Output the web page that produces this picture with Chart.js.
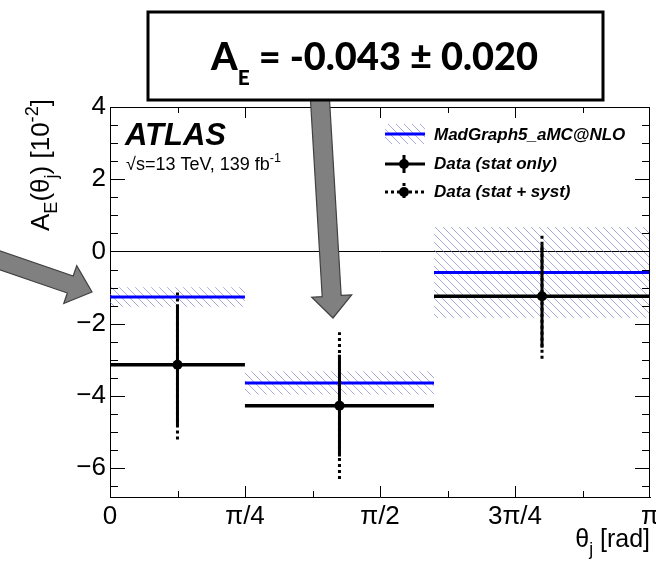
<!DOCTYPE html>
<html>
<head>
<meta charset="utf-8">
<script src="https://cdn.jsdelivr.net/npm/chart.js@4.4.1/dist/chart.umd.min.js"></script>
<style>
html,body{margin:0;padding:0;background:#fff}
#wrap{width:656px;height:562px}
</style>
</head>
<body>
<div id="wrap"><canvas id="asymChart" width="656" height="562"></canvas></div>
<script>
// bins in theta_j [rad], values in units of 10^-2
const binEdges = [0, 0.785, 1.885, 3.1416]
const dataValues = [-3.14, -4.27, -1.24]
const statErrors = [1.67, 1.41, 1.43]
const totalErrors = [2.07, 2.03, 1.73]
const mcValues = [-1.26, -3.64, -0.58]
const mcErrors = [0.27, 0.32, 1.26]
const xTickValues = [0, Math.PI/4, Math.PI/2, 3*Math.PI/4, Math.PI]
const xTickLabels = ["0","π/4","π/2","3π/4","π"]
const yTickValues = [-6,-4,-2,0,2,4]

const FONT = "'Liberation Sans', Arial, sans-serif"

const binCentres = dataValues.map((v,i)=>(binEdges[i]+binEdges[i+1])/2)

function binSegments(values){
let pts=[]
values.forEach((v,i)=>{
pts.push({x:binEdges[i],y:v},{x:binEdges[i+1],y:v},{x:binEdges[i+1],y:null})
})
return pts
}

function errorSegments(errs){
let pts=[]
dataValues.forEach((v,i)=>{
pts.push({x:binCentres[i],y:v-errs[i]},{x:binCentres[i],y:v+errs[i]},{x:binCentres[i],y:null})
})
return pts
}

function stepPoints(values){
let pts=values.map((v,i)=>({x:binEdges[i],y:v}))
pts.push({x:binEdges[values.length],y:values[values.length-1]})
return pts
}

function hatchPattern(){
const c=document.createElement("canvas")
c.width=8;c.height=8
const g=c.getContext("2d")
g.strokeStyle="rgba(125,125,200,0.65)"
g.lineWidth=1
g.beginPath()
for(const o of [-8,0,8]){g.moveTo(o,0);g.lineTo(o+8,8)}
g.stroke()
return g.createPattern(c,"repeat")
}
const hatch = hatchPattern()

// text with sub/superscripts, returns width
function richText(ctx,parts,x,y,size,style,measureOnly){
let cx=x
for(const p of parts){
const fs=p.s?size*(p.k||0.7):size
ctx.font=style+" "+fs+"px "+(p.f||FONT)
const dy=p.dy!==undefined?p.dy:p.s==="sub"?size*0.3:p.s==="sup"?-size*0.42:0
if(!measureOnly)ctx.fillText(p.t,cx,y+dy)
cx+=ctx.measureText(p.t).width
}
return cx-x
}

function drawArrow(ctx,x0,y0,x1,y1,shaftW,headW,headL){
const dx=x1-x0,dy=y1-y0,L=Math.hypot(dx,dy)
const ux=dx/L,uy=dy/L,nx=-uy,ny=ux
const bx=x1-ux*headL,by=y1-uy*headL
const pts=[
[x0+nx*shaftW/2,y0+ny*shaftW/2],[bx+nx*shaftW/2,by+ny*shaftW/2],[bx+nx*headW/2,by+ny*headW/2],
[x1,y1],
[bx-nx*headW/2,by-ny*headW/2],[bx-nx*shaftW/2,by-ny*shaftW/2],[x0-nx*shaftW/2,y0-ny*shaftW/2]]
ctx.beginPath()
pts.forEach((p,i)=>i?ctx.lineTo(p[0],p[1]):ctx.moveTo(p[0],p[1]))
ctx.closePath()
ctx.fillStyle="#808080"
ctx.fill()
ctx.strokeStyle="#404040"
ctx.lineWidth=1.2
ctx.stroke()
}

const decorations={
id:"decorations",
afterDatasetsDraw(chart){
const ctx=chart.ctx
const a=chart.chartArea
const xs=chart.scales.x,ys=chart.scales.y
ctx.save()
ctx.strokeStyle="#000"
ctx.lineWidth=1
ctx.beginPath()
ctx.moveTo(a.left,a.top+0.5);ctx.lineTo(a.right,a.top+0.5)
ctx.moveTo(a.right-0.5,a.top);ctx.lineTo(a.right-0.5,a.bottom)
// inside ticks on y
for(let k=-13;k<=8;k++){
const v=k/2
const py=Math.round(ys.getPixelForValue(v))+0.5
const len=(k%4===0)?15:8
ctx.moveTo(a.left,py);ctx.lineTo(a.left+len,py)
ctx.moveTo(a.right,py);ctx.lineTo(a.right-len,py)
}
// inside ticks on x
for(let k=1;k<8;k++){
const px=Math.round(xs.getPixelForValue(k*Math.PI/8))+0.5
const len=(k%2===0)?11:6
ctx.moveTo(px,a.bottom);ctx.lineTo(px,a.bottom-len)
ctx.moveTo(px,a.top);ctx.lineTo(px,a.top+len)
}
ctx.stroke()
ctx.restore()
},
afterDraw(chart){
const ctx=chart.ctx
ctx.save()
ctx.fillStyle="#000"
ctx.textBaseline="alphabetic"
ctx.textAlign="left"

// ATLAS label
ctx.font="italic bold 31px "+FONT
ctx.fillText("ATLAS",125,145)
richText(ctx,[{t:"√s=13 TeV, 139 fb"},{t:"-1",s:"sup"}],126,170,18,"")

// y axis title, rotated
const yParts=[{t:"A"},{t:"E",s:"sub"},{t:"(θ"},{t:"j",s:"sub"},{t:") [10"},{t:"-2",s:"sup"},{t:"]"}]
const yw=richText(ctx,yParts,0,0,26,"",true)
ctx.save()
ctx.translate(49,99+yw)
ctx.rotate(-Math.PI/2)
richText(ctx,yParts,0,0,26,"")
ctx.restore()

// x axis title, right aligned
const xParts=[{t:"θ"},{t:"j",s:"sub"},{t:" [rad]"}]
const xw=richText(ctx,xParts,0,0,25,"",true)
richText(ctx,xParts,650-xw,547,25,"")

// legend
const lx0=385,lx1=425,lxm=404
ctx.fillStyle=hatch
ctx.fillRect(lx0,124,lx1-lx0,20)
ctx.strokeStyle="#0000ff"
ctx.lineWidth=3
ctx.beginPath();ctx.moveTo(lx0,134);ctx.lineTo(lx1,134);ctx.stroke()

ctx.strokeStyle="#000"
ctx.beginPath();ctx.moveTo(lx0,164);ctx.lineTo(lx1,164);ctx.moveTo(lxm,155);ctx.lineTo(lxm,173);ctx.stroke()
ctx.fillStyle="#000"
ctx.beginPath();ctx.arc(lxm,164,5,0,2*Math.PI);ctx.fill()

ctx.setLineDash([3,3])
ctx.beginPath();ctx.moveTo(lx0,192);ctx.lineTo(lx1,192);ctx.moveTo(lxm,183);ctx.lineTo(lxm,201);ctx.stroke()
ctx.setLineDash([])
ctx.beginPath();ctx.arc(lxm,192,5,0,2*Math.PI);ctx.fill()

ctx.font="italic bold 17px "+FONT
ctx.textBaseline="middle"
ctx.fillText("MadGraph5_aMC@NLO",434,135)
ctx.fillText("Data (stat only)",434,164)
ctx.fillText("Data (stat + syst)",434,192)
ctx.textBaseline="alphabetic"

// annotation arrows
drawArrow(ctx,-10,257,92,292,18,40,23)
drawArrow(ctx,320,100,333,318,19,40,22)

// result box
ctx.fillStyle="#fff"
ctx.fillRect(148,12,455,88)
ctx.strokeStyle="#000"
ctx.lineWidth=3
ctx.strokeRect(148,12,455,88)
ctx.fillStyle="#000"
const boxParts=[{t:"A",f:"Lato"},{t:"E",s:"sub",k:0.55,dy:15,f:"Lato"},{t:" = -0.043 ± 0.020",f:"Lato"}]
const bw=richText(ctx,boxParts,0,0,37,"900",true)
const sx=327/bw
ctx.save()
ctx.translate(211,70)
ctx.scale(sx,1)
richText(ctx,boxParts,0,0,37,"900")
ctx.restore()
ctx.restore()
}
}

const ctx=document.getElementById("asymChart").getContext("2d")

const asymChart=new Chart(ctx,{
type:"line",
data:{
datasets:[
{label:"markers",data:dataValues.map((v,i)=>({x:binCentres[i],y:v})),showLine:false,pointRadius:5,pointBackgroundColor:"#000",pointBorderColor:"#000",pointBorderWidth:0},
{label:"stat",data:errorSegments(statErrors),borderColor:"#000",borderWidth:3,pointRadius:0,spanGaps:false},
{label:"total",data:errorSegments(totalErrors),borderColor:"#000",borderWidth:3,borderDash:[3,3],pointRadius:0,spanGaps:false},
{label:"data",data:binSegments(dataValues),borderColor:"#000",borderWidth:3.5,pointRadius:0,spanGaps:false},
{label:"MadGraph5_aMC@NLO",data:binSegments(mcValues),borderColor:"#0000ff",borderWidth:3,pointRadius:0,spanGaps:false},
{label:"band hi",data:stepPoints(mcValues.map((v,i)=>v+mcErrors[i])),stepped:true,borderWidth:0,borderColor:"rgba(0,0,0,0)",pointRadius:0,fill:"+1",backgroundColor:hatch},
{label:"band lo",data:stepPoints(mcValues.map((v,i)=>v-mcErrors[i])),stepped:true,borderWidth:0,borderColor:"rgba(0,0,0,0)",pointRadius:0,fill:false}
]
},
options:{
responsive:false,
animation:false,
layout:{padding:{top:107,right:6,left:0,bottom:0}},
plugins:{legend:{display:false},tooltip:{enabled:false}},
elements:{line:{tension:0,borderCapStyle:"butt"}},
scales:{
x:{
type:"linear",min:0,max:Math.PI,
afterBuildTicks:s=>{s.ticks=xTickValues.map(v=>({value:v}))},
afterFit:s=>{s.height=65;s.paddingLeft=0;s.paddingRight=0},
grid:{display:false,drawTicks:false},
border:{display:true,color:"#000",width:1},
ticks:{padding:4,color:"#000",font:{family:FONT,size:26},maxRotation:0,autoSkip:false,callback:(v,i)=>xTickLabels[i]}
},
y:{
type:"linear",min:-6.8,max:4,
afterBuildTicks:s=>{s.ticks=yTickValues.map(v=>({value:v}))},
afterFit:s=>{s.width=110;s.paddingTop=0;s.paddingBottom=0},
grid:{drawTicks:false,lineWidth:1,color:c=>(c.tick&&c.tick.value===0)?"#000":"rgba(0,0,0,0)"},
border:{display:true,color:"#000",width:1},
ticks:{padding:4,color:"#000",font:{family:FONT,size:26},callback:v=>v<0?"−"+Math.abs(v):String(v)}
}
}
},
plugins:[decorations]
})
</script>
</body>
</html>
